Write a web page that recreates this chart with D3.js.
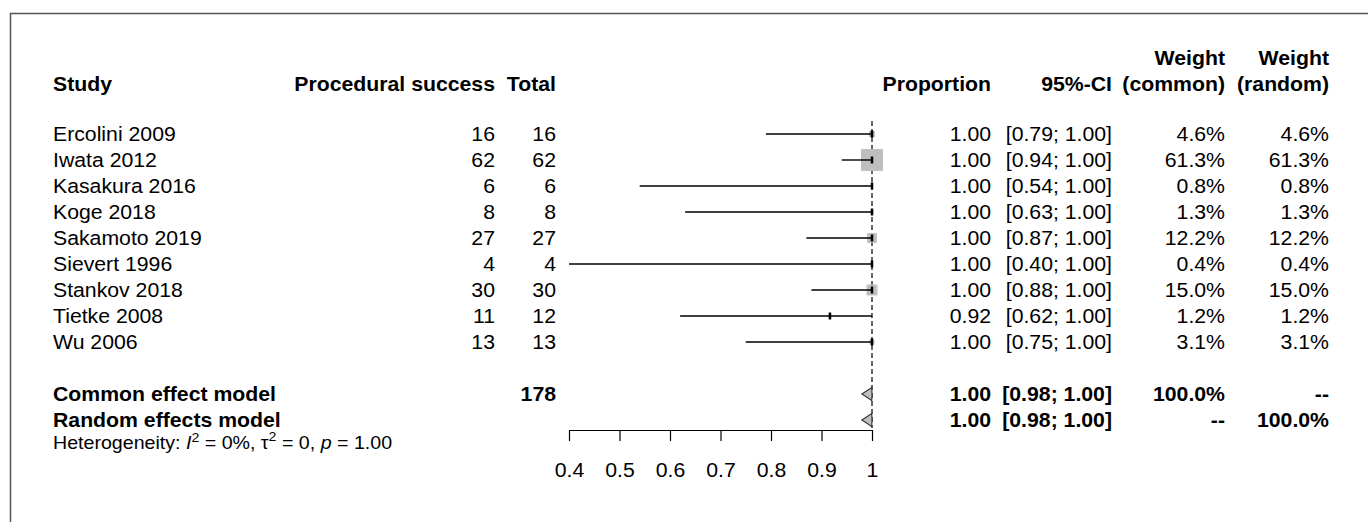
<!DOCTYPE html>
<html>
<head>
<meta charset="utf-8">
<script src="https://cdn.jsdelivr.net/npm/d3@7"></script>
<style>
  html, body { margin: 0; padding: 0; background: #fff; }
  svg { display: block; font-family: "Liberation Sans", Arial, Helvetica, sans-serif; }
</style>
</head>
<body>
<svg id="chart" width="1368" height="522"></svg>
<script>
// Study-level data (proportion of procedural success)
const studies   = ["Ercolini 2009", "Iwata 2012", "Kasakura 2016", "Koge 2018", "Sakamoto 2019",
                   "Sievert 1996", "Stankov 2018", "Tietke 2008", "Wu 2006"];
const events    = [16, 62, 6, 8, 27, 4, 30, 11, 13];
const totals    = [16, 62, 6, 8, 27, 4, 30, 12, 13];
const estimates = [1.00, 1.00, 1.00, 1.00, 1.00, 1.00, 1.00, 0.9167, 1.00];
const lowers    = [0.79, 0.94, 0.54, 0.63, 0.87, 0.40, 0.88, 0.62, 0.75];
const uppers    = [1.00, 1.00, 1.00, 1.00, 1.00, 1.00, 1.00, 1.00, 1.00];
const wCommon   = [4.6, 61.3, 0.8, 1.3, 12.2, 0.4, 15.0, 1.2, 3.1];
const wRandom   = [4.6, 61.3, 0.8, 1.3, 12.2, 0.4, 15.0, 1.2, 3.1];

// Pooled estimates
const models      = ["Common effect model", "Random effects model"];
const modelEst    = [0.9995, 0.9995];
const modelLower  = [0.98, 0.98];
const modelUpper  = [1.00, 1.00];
const modelTotal  = ["178", ""];
const modelWCom   = ["100.0%", "--"];
const modelWRan   = ["--", "100.0%"];

const axisTicks = [0.4, 0.5, 0.6, 0.7, 0.8, 0.9, 1];

const svg = d3.select("#chart");
const FS = 19.5;      // font size
const SX = 1.09;      // horizontal stretch of the lettering

// frame
svg.append("path")
  .attr("d", "M10.5,522 L10.5,13.5 L1368,13.5")
  .attr("fill", "none").attr("stroke", "#555").attr("stroke-width", 1.5);

const x = d3.scaleLinear().domain([0.4, 1]).range([569, 872]);
const rowY = d3.scalePoint().domain(d3.range(studies.length)).range([134, 342]);
const modelY = [394, 420];

// column anchors (left edge for study names, right edge otherwise)
const col = { study: 53, events: 495, total: 556, prop: 991, ci: 1112, wc: 1225, wr: 1329 };

function txt(g, xPos, yPos, s, anchor, bold, size) {
  return g.append("text")
    .attr("transform", `translate(${xPos},${yPos}) scale(${SX},1)`)
    .attr("dy", "0.36em")
    .attr("text-anchor", anchor)
    .attr("font-size", size || FS)
    .attr("font-weight", bold ? "bold" : "normal")
    .attr("fill", "#000")
    .text(s);
}

// headers
const hdr = svg.append("g");
txt(hdr, col.study, 84, "Study", "start", true);
txt(hdr, col.events, 84, "Procedural success", "end", true);
txt(hdr, col.total, 84, "Total", "end", true);
txt(hdr, col.prop, 84, "Proportion", "end", true);
txt(hdr, col.ci, 84, "95%-CI", "end", true);
txt(hdr, col.wc, 58, "Weight", "end", true);
txt(hdr, col.wc, 84, "(common)", "end", true);
txt(hdr, col.wr, 58, "Weight", "end", true);
txt(hdr, col.wr, 84, "(random)", "end", true);

const f2 = d3.format(".2f");
const f1 = d3.format(".1f");

// reference line at proportion 1
svg.append("line")
  .attr("x1", x(1)).attr("x2", x(1))
  .attr("y1", 121).attr("y2", 428)
  .attr("stroke", "#000").attr("stroke-width", 1.2)
  .attr("stroke-dasharray", "5,3");

// study rows
const rows = svg.append("g");
studies.forEach((s, i) => {
  const y = rowY(i);
  txt(rows, col.study, y, s, "start", false);
  txt(rows, col.events, y, events[i], "end", false);
  txt(rows, col.total, y, totals[i], "end", false);
  txt(rows, col.prop, y, f2(estimates[i]), "end", false);
  txt(rows, col.ci, y, "[" + f2(lowers[i]) + "; " + f2(uppers[i]) + "]", "end", false);
  txt(rows, col.wc, y, f1(wCommon[i]) + "%", "end", false);
  txt(rows, col.wr, y, f1(wRandom[i]) + "%", "end", false);

  // weight square (area proportional to weight)
  const side = 2.8 * Math.sqrt(wCommon[i]);
  rows.append("rect")
    .attr("x", x(estimates[i]) - side / 2).attr("y", y - side / 2)
    .attr("width", side).attr("height", side)
    .attr("fill", "#bebebe");
  // confidence interval
  rows.append("line")
    .attr("x1", x(lowers[i])).attr("x2", x(uppers[i]))
    .attr("y1", y).attr("y2", y)
    .attr("stroke", "#000").attr("stroke-width", 1.4);
  // point estimate
  rows.append("rect")
    .attr("x", x(estimates[i]) - 1.25).attr("y", y - 3.5)
    .attr("width", 2.5).attr("height", 7)
    .attr("fill", "#000");
});

// pooled rows
const pooled = svg.append("g");
models.forEach((m, i) => {
  const y = modelY[i];
  txt(pooled, col.study, y, m, "start", true);
  if (modelTotal[i]) txt(pooled, col.total, y, modelTotal[i], "end", true);
  txt(pooled, col.prop, y, f2(modelEst[i]), "end", true);
  txt(pooled, col.ci, y, "[" + f2(modelLower[i]) + "; " + f2(modelUpper[i]) + "]", "end", true);
  txt(pooled, col.wc, y, modelWCom[i], "end", true);
  txt(pooled, col.wr, y, modelWRan[i], "end", true);
  const h = 6.5;
  pooled.append("path")
    .attr("d", `M${x(modelLower[i])},${y} L${x(modelEst[i])},${y - h} L${x(modelUpper[i])},${y} L${x(modelEst[i])},${y + h} Z`)
    .attr("fill", "#bebebe").attr("stroke", "#333").attr("stroke-width", 1.1);
});

// heterogeneity line
const het = txt(svg, col.study, 443, null, "start", false, 18);
het.append("tspan").text("Heterogeneity: ");
het.append("tspan").attr("font-style", "italic").text("I");
het.append("tspan").attr("font-size", 13).attr("dy", "-0.6em").text("2");
het.append("tspan").attr("dy", "0.42em").text(" = 0%, \u03c4");
het.append("tspan").attr("font-size", 13).attr("dy", "-0.6em").text("2");
het.append("tspan").attr("dy", "0.42em").text(" = 0, ");
het.append("tspan").attr("font-style", "italic").text("p");
het.append("tspan").text(" = 1.00");

// x axis
const axis = d3.axisBottom(x)
  .tickValues(axisTicks)
  .tickFormat(d => d === 1 ? "1" : d3.format(".1f")(d))
  .tickSize(11).tickSizeOuter(0).tickPadding(22);
const ag = svg.append("g").attr("transform", "translate(0,430)").call(axis);
ag.select(".domain").attr("stroke", "#000").attr("stroke-width", 1.2);
ag.selectAll(".tick line").attr("stroke", "#000").attr("stroke-width", 1.2);
ag.selectAll(".tick text")
  .attr("font-size", FS).attr("fill", "#000")
  .attr("font-family", "'Liberation Sans', Arial, sans-serif")
  .attr("transform", `scale(${SX},1)`);
</script>
</body>
</html>
